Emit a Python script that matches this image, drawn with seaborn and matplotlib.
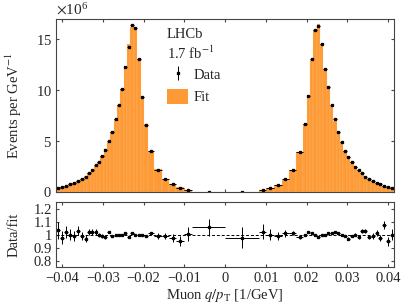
import numpy as np
import pandas as pd
import matplotlib
matplotlib.use('Agg')
import matplotlib.pyplot as plt
import seaborn as sns
from matplotlib.patches import Patch
from matplotlib.ticker import ScalarFormatter, FuncFormatter, MultipleLocator

# bin edges in q/pT [1/GeV] (variable binning, two wide bins around 0)
edges = [-0.04162, -0.04056, -0.03953, -0.03853, -0.03750, -0.03652, -0.03556,
         -0.03468, -0.03382, -0.03301, -0.03218, -0.03137, -0.03059, -0.02983,
         -0.02900, -0.02819, -0.02733, -0.02647, -0.02569, -0.02488, -0.02402,
         -0.02324, -0.02248, -0.02162, -0.02076, -0.01990, -0.01897, -0.01752,
         -0.01556, -0.01373, -0.01194, -0.01005, -0.00809, 0.0,
         0.00833, 0.01005, 0.01196, 0.01385, 0.01574, 0.01748, 0.01907, 0.02002,
         0.02083, 0.02164, 0.02248, 0.02328, 0.02409, 0.02493, 0.02574, 0.02654,
         0.02738, 0.02819, 0.02900, 0.02983, 0.03069, 0.03152, 0.03235, 0.03314,
         0.03395, 0.03488, 0.03578, 0.03667, 0.03760, 0.03855, 0.03953, 0.04051,
         0.04150]

# events per GeV^-1, in units of 1e6
data_neg = [0.42, 0.49, 0.62, 0.75, 0.91, 1.11, 1.27, 1.50, 1.89, 2.19, 2.65,
            2.97, 3.53, 4.12, 5.03, 5.88, 7.13, 8.53, 10.13, 12.30, 14.25, 16.37,
            16.14, 13.10, 9.35, 6.57, 4.02, 2.19, 1.27, 0.75, 0.42, 0.23, 0.03]
data_pos = [0.03, 0.20, 0.39, 0.69, 1.24, 2.16, 3.89, 6.70, 9.41, 13.07, 15.95,
            16.27, 14.54, 12.06, 10.32, 8.53, 7.13, 5.91, 4.87, 3.99, 3.46, 2.94,
            2.42, 2.12, 1.83, 1.50, 1.27, 1.11, 0.91, 0.75, 0.59, 0.49, 0.39]

# data/fit ratio and its uncertainty
ratio_neg = [1.035, 0.975, 1.02, 1.0, 0.99, 1.03, 0.99, 0.97, 1.02, 1.02, 1.02,
             1.0, 0.99, 0.98, 1.02, 0.99, 1.0, 1.0, 1.0, 1.01, 0.98, 1.01, 1.0,
             1.0, 1.0, 0.99, 1.01, 0.99, 0.99, 0.975, 0.95, 1.005, 1.055]
ratio_pos = [0.975, 1.023, 1.0, 0.99, 1.01, 1.01, 0.98, 1.0, 1.02, 1.01, 1.0,
             0.985, 1.0, 1.0, 1.01, 1.01, 1.02, 1.01, 1.0, 0.99, 0.97, 0.99, 1.0,
             0.98, 1.03, 1.03, 0.98, 0.99, 1.01, 0.975, 1.075, 0.95, 1.0]
ratio_err_neg = [0.065, 0.05, 0.045, 0.04, 0.035, 0.035, 0.03, 0.03, 0.025, 0.02,
                 0.02, 0.015, 0.013, 0.012, 0.01, 0.009, 0.008, 0.007, 0.006,
                 0.005, 0.005, 0.005, 0.005, 0.005, 0.006, 0.008, 0.012, 0.02,
                 0.025, 0.03, 0.04, 0.05, 0.065]
ratio_err_pos = [0.08, 0.055, 0.04, 0.03, 0.025, 0.015, 0.01, 0.006, 0.005,
                 0.005, 0.005, 0.005, 0.005, 0.005, 0.006, 0.006, 0.007, 0.007,
                 0.008, 0.008, 0.009, 0.01, 0.01, 0.012, 0.014, 0.015, 0.017,
                 0.02, 0.022, 0.025, 0.03, 0.035, 0.04]

edges_arr = np.array(edges)
centers = 0.5 * (edges_arr[1:] + edges_arr[:-1])
half_w = 0.5 * np.diff(edges_arr)
data = np.array(data_neg + data_pos) * 1e6
ratio = np.array(ratio_neg + ratio_pos)
ratio_err = np.array(ratio_err_neg + ratio_err_pos)
fit = data / ratio
df = pd.DataFrame({'qpt': centers, 'fit': fit})

ORANGE = '#fd9a35'
SPINE = '#454545'
FS = 10.5

sns.set_theme(style='ticks')
plt.rcParams['font.family'] = ['Liberation Serif', 'DejaVu Serif']
plt.rcParams['mathtext.fontset'] = 'stix'
plt.rcParams['font.size'] = FS
plt.rcParams['axes.edgecolor'] = SPINE
plt.rcParams['axes.linewidth'] = 0.8

fig = plt.figure(figsize=(4.07, 3.05), dpi=100)
ax = fig.add_axes([0.1376, 0.3705, 0.8312, 0.5672])
axr = fig.add_axes([0.1376, 0.1236, 0.8312, 0.2141])

# fit histogram
sns.histplot(data=df, x='qpt', weights='fit', bins=edges, ax=ax, color=ORANGE,
             alpha=1, edgecolor='#ffcf9c', linewidth=0.15)

# data points
ax.errorbar(centers, data, xerr=half_w, yerr=data * ratio_err, fmt='s', ms=1.4,
            color='black', elinewidth=0.7, capsize=0)

ax.set_xlim(-0.0415, 0.0415)
ax.set_ylim(0, 17e6)
ax.set_ylabel('Events per GeV$^{-1}$', fontsize=FS, va='center')
ax.set_xlabel('')
ax.yaxis.set_major_locator(MultipleLocator(5e6))
fmt = ScalarFormatter(useMathText=True)
fmt.set_powerlimits((6, 6))
ax.yaxis.set_major_formatter(fmt)
ax.xaxis.set_major_locator(MultipleLocator(0.01))
ax.tick_params(labelbottom=False)

ax.text(0.328, 0.912, 'LHCb', transform=ax.transAxes, ha='left', va='center',
        fontsize=FS)
ax.text(0.328, 0.80, '1.7 fb$^{-1}$', transform=ax.transAxes, ha='left',
        va='center', fontsize=FS)

h_data = ax.errorbar([np.nan], [np.nan], yerr=[1.0], fmt='s', ms=1.4,
                     color='black', elinewidth=0.7, capsize=0)
h_fit = Patch(facecolor=ORANGE, edgecolor='none')
ax.legend([h_data, h_fit], ['Data', 'Fit'], loc='upper left',
          bbox_to_anchor=(0.328, 0.725), frameon=False, borderpad=0,
          borderaxespad=0, handlelength=1.45, handleheight=1.25,
          handletextpad=0.35, labelspacing=0.45, fontsize=FS)

# ratio panel
axr.axhline(1.0, color='black', lw=0.7, ls=(0, (3, 2)))
axr.errorbar(centers, ratio, xerr=half_w, yerr=ratio_err, fmt='s', ms=1.4,
             color='black', elinewidth=0.7, capsize=0)
axr.set_xlim(-0.0415, 0.0415)
axr.set_ylim(0.75, 1.25)
axr.yaxis.set_major_locator(MultipleLocator(0.1))
axr.xaxis.set_major_locator(MultipleLocator(0.01))
axr.yaxis.set_major_formatter(FuncFormatter(lambda v, p: f'{v:g}'))
axr.xaxis.set_major_formatter(
    FuncFormatter(lambda v, p: f'{round(v, 3):g}'.replace('-', '\u2212')))
axr.set_ylabel('Data/fit', fontsize=FS, va='center')
axr.set_xlabel('Muon $q/p_\\mathrm{T}$ [1/GeV]', fontsize=FS, va='center')
axr.xaxis.set_label_coords(0.5, -0.435)

for a in (ax, axr):
    a.tick_params(direction='in', top=True, right=True, length=2.5, width=0.8,
                  color=SPINE, labelsize=FS, pad=3)
    for s in a.spines.values():
        s.set_color(SPINE)
        s.set_linewidth(0.8)
    a.yaxis.set_label_coords(-0.124, 0.5)
axr.tick_params(axis='x', pad=3.5)

fig.savefig('out.png', dpi=100)
